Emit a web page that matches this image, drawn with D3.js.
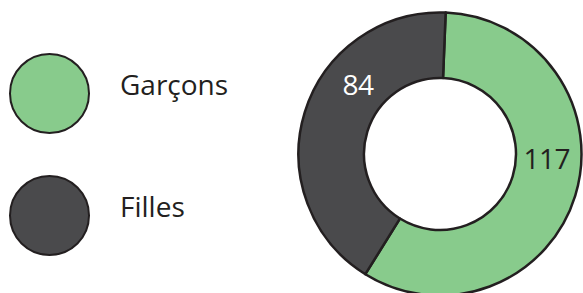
<!DOCTYPE html>
<html>
<head>
<meta charset="utf-8">
<script src="https://cdn.jsdelivr.net/npm/d3@7"></script>
<style>
  body { margin: 0; background: #fff; }
  text { font-family: "Open Sans", sans-serif; }
</style>
</head>
<body>
<div id="chart"></div>
<script>
// data
var categories = ["Garçons", "Filles"];
var values = [117, 84];
var colors = ["#88cb8c", "#4a4a4c"];

var width = 583, height = 293;

var svg = d3.select("#chart").append("svg")
    .attr("width", width)
    .attr("height", height);

// legend
var ly = d3.scalePoint()
    .domain(categories)
    .range([93.5, 215.5]);

var legend = svg.append("g");

legend.selectAll("circle")
    .data(categories)
    .enter().append("circle")
    .attr("cx", 49.5)
    .attr("cy", function(d){ return ly(d); })
    .attr("r", 39.5)
    .attr("fill", function(d, i){ return colors[i]; })
    .attr("stroke", "#231f20")
    .attr("stroke-width", 2);

legend.selectAll("text")
    .data(categories)
    .enter().append("text")
    .attr("x", 120)
    .attr("y", function(d){ return ly(d) + 1; })
    .attr("font-size", "28px")
    .attr("fill", "#231f20")
    .text(function(d){ return d; });

// donut
var cx = 440, cy = 154;
var outer = 141.5, inner = 76;

var pie = d3.pie()
    .sort(null)
    .startAngle(0.04)
    .endAngle(0.04 + 2 * Math.PI);

var arcs = pie(values);

var arc = d3.arc()
    .innerRadius(inner)
    .outerRadius(outer);

var g = svg.append("g")
    .attr("transform", "translate(" + cx + "," + cy + ")");

g.selectAll("path")
    .data(arcs)
    .enter().append("path")
    .attr("d", arc)
    .attr("fill", function(d, i){ return colors[i]; })
    .attr("stroke", "#231f20")
    .attr("stroke-width", 2.5)
    .attr("stroke-linejoin", "round");

// labels sit inside the ring, not at the centroid
var labelFrac = [0.432, 0.652];
var labelArc = d3.arc().innerRadius(107).outerRadius(107);

g.selectAll("text")
    .data(arcs)
    .enter().append("text")
    .attr("transform", function(d, i){
        var a = d.startAngle + labelFrac[i] * (d.endAngle - d.startAngle);
        var p = labelArc.centroid({startAngle: a, endAngle: a});
        return "translate(" + p[0] + "," + (p[1] + 10) + ")";
    })
    .attr("text-anchor", "middle")
    .attr("font-size", "28px")
    .attr("letter-spacing", "-0.5px")
    .attr("fill", function(d, i){ return i === 0 ? "#231f20" : "#ffffff"; })
    .text(function(d){ return d.data; });
</script>
</body>
</html>
